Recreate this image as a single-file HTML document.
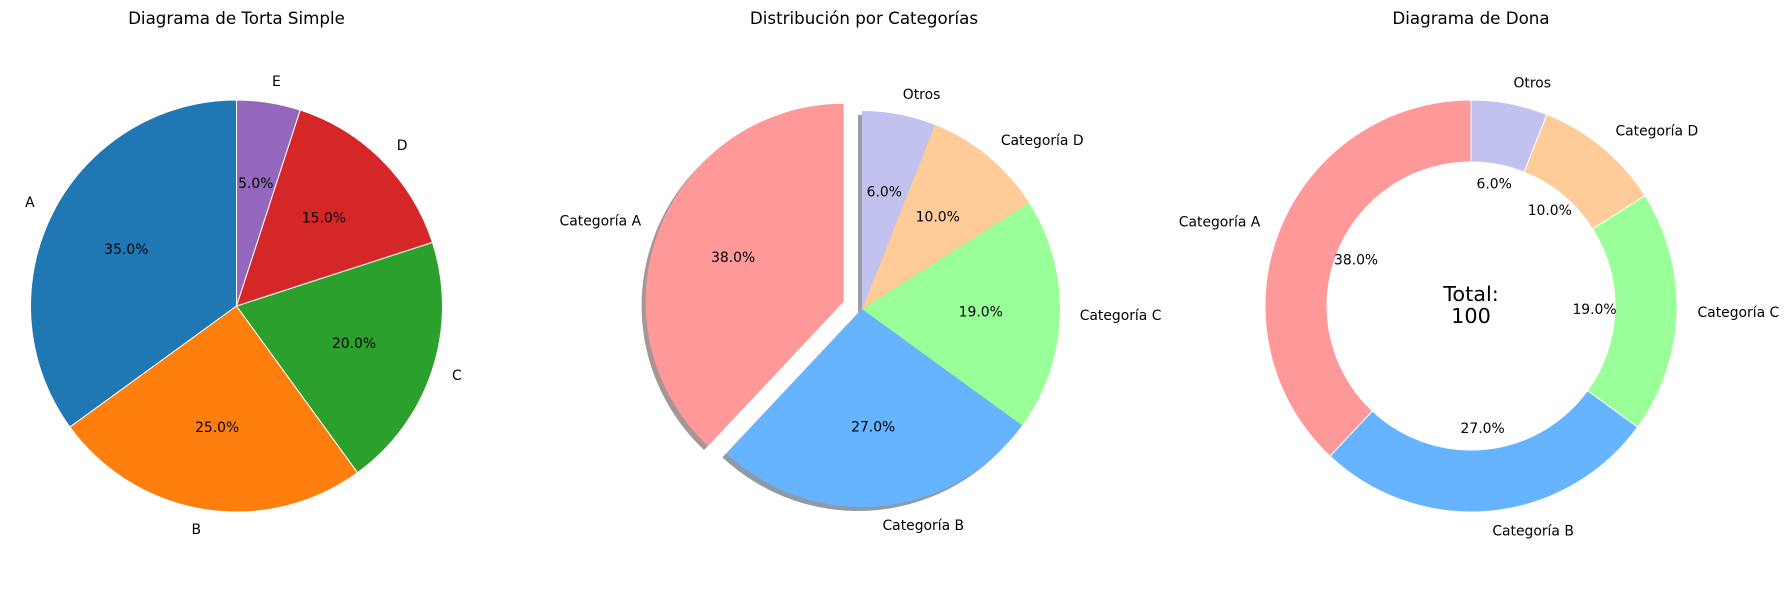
<!DOCTYPE html>
<html><head><meta charset="utf-8">
<style>
html,body{margin:0;padding:0;background:#fff;}
svg{display:block;font-family:"DejaVu Sans","Liberation Sans",sans-serif;}
</style></head>
<body>
<svg id="fig" width="1789" height="590" viewBox="0 0 1789 590" xmlns="http://www.w3.org/2000/svg">
<rect width="1789" height="590" fill="#fff"/>
</svg>
<script>
// Chart 1 data
const simpleLabels = ["A","B","C","D","E"];
const simpleValues = [35,25,20,15,5];
const simpleColors = ["#1f77b4","#ff7f0e","#2ca02c","#d62728","#9467bd"];
// Chart 2 & 3 data
const catLabels = ["Categoría A","Categoría B","Categoría C","Categoría D","Otros"];
const catValues = [38,27,19,10,6];
const catColors = ["#ff9999","#66b3ff","#99ff99","#ffcc99","#c2c2f0"];
const catExplode = [0.1,0,0,0,0];
const donutTotal = 100;

const NS = "http://www.w3.org/2000/svg";
const svg = document.getElementById('fig');
function mk(tag, attrs, parent){
  const e = document.createElementNS(NS, tag);
  for (const k in attrs) e.setAttribute(k, attrs[k]);
  (parent||svg).appendChild(e);
  return e;
}
function pt(cx,cy,r,deg){const a=deg*Math.PI/180;return [cx+r*Math.cos(a), cy-r*Math.sin(a)];}
function wedgePath(cx,cy,r,a0,a1,rin){
  const large = (a1-a0)>180?1:0;
  const p0=pt(cx,cy,r,a0), p1=pt(cx,cy,r,a1);
  if(!rin){
    return `M${cx},${cy} L${p0[0]},${p0[1]} A${r},${r} 0 ${large} 0 ${p1[0]},${p1[1]} Z`;
  }
  const q1=pt(cx,cy,rin,a1), q0=pt(cx,cy,rin,a0);
  return `M${p0[0]},${p0[1]} A${r},${r} 0 ${large} 0 ${p1[0]},${p1[1]} L${q1[0]},${q1[1]} A${rin},${rin} 0 ${large} 1 ${q0[0]},${q0[1]} Z`;
}
function darker(hex){
  const n=parseInt(hex.slice(1),16);
  const r=Math.round(((n>>16)&255)*0.3),g=Math.round(((n>>8)&255)*0.3),b=Math.round((n&255)*0.3);
  return `rgb(${r},${g},${b})`;
}
function title(x,text,name){
  const t=mk('text',{x:x,y:24,'text-anchor':'middle','font-size':'16.7px',fill:'#000'});
  
  
  t.textContent=text;
}
function drawPie(o){
  const total=o.values.reduce((a,b)=>a+b,0);
  const g=mk('g',{});
  
  
  let start=90;
  const items=[];
  o.values.forEach((v,i)=>{
    const sweep=v/total*360, a0=start, a1=start+sweep, mid=(a0+a1)/2;
    const ex=(o.explode?o.explode[i]:0)*o.r;
    const off=pt(0,0,ex,mid);
    items.push({i,a0,a1,mid,cx:o.cx+off[0],cy:o.cy+off[1],pct:v/total*100});
    start=a1;
  });
  if(o.shadow){
    items.forEach(it=>{
      const s=mk('path',{d:wedgePath(it.cx-4,it.cy+4,o.r,it.a0,it.a1,o.rin),fill:darker(o.colors[it.i]),opacity:0.5},g);
      
      
    });
  }
  items.forEach(it=>{
    const p=mk('path',{d:wedgePath(it.cx,it.cy,o.r,it.a0,it.a1,o.rin),fill:o.colors[it.i],stroke:o.edge||'none','stroke-width':o.edge?1:0},g);
    
    
  });
  items.forEach(it=>{
    const lp=pt(it.cx,it.cy,o.r*1.1,it.mid);
    const anchor=Math.cos(it.mid*Math.PI/180)>=0?'start':'end';
    const t=mk('text',{x:lp[0],y:lp[1],'text-anchor':anchor,'dominant-baseline':'central','font-size':'13.9px',fill:'#000'},g);
    
    
    t.textContent=o.labels[it.i];
    const pp=pt(it.cx,it.cy,o.r*0.6,it.mid);
    const q=mk('text',{x:pp[0],y:pp[1],'text-anchor':'middle','dominant-baseline':'central','font-size':'13.9px',fill:'#000'},g);
    
    
    q.textContent=it.pct.toFixed(1)+'%';
  });
}
title(236.5,"Diagrama de Torta Simple","chart1-title");
drawPie({name:'simple-pie',cx:236.5,cy:306,r:206,values:simpleValues,labels:simpleLabels,colors:simpleColors,edge:'#fff'});
title(864,"Distribución por Categorías","chart2-title");
drawPie({name:'exploded-pie',cx:862,cy:309,r:198,values:catValues,labels:catLabels,colors:catColors,explode:catExplode,shadow:true});
title(1471,"Diagrama de Dona","chart3-title");
drawPie({name:'donut-chart',cx:1471,cy:306,r:206,rin:144,values:catValues,labels:catLabels,colors:catColors,edge:'#fff'});
const t1=mk('text',{x:1471,y:301,'text-anchor':'middle','font-size':'20.8px',fill:'#000'});


t1.textContent='Total:';
const t2=mk('text',{x:1471,y:323,'text-anchor':'middle','font-size':'20.8px',fill:'#000'});


t2.textContent=String(donutTotal);
</script>
</body></html>
